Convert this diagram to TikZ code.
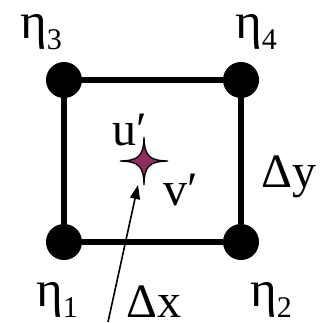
\documentclass[tikz,border=0pt]{standalone}
\usepackage{fontspec}
\setmainfont{Liberation Serif}
\usepackage{tikz}
\usetikzlibrary{arrows.meta}
\definecolor{starpurple}{RGB}{142,44,98}
\newcommand{\idx}[1]{\raisebox{-11pt}{\fontsize{30}{30}\selectfont #1}}
\newcommand{\elev}{{\fontsize{51}{51}\selectfont η}}
\tikzset{
  corner/.style={circle, fill=black, inner sep=0pt, minimum size=36pt},
  edge/.style={line width=5.5pt, color=black},
  lbl/.style={anchor=base west, inner sep=0pt, font=\fontsize{48}{48}\selectfont},
  pointer/.style={-{Triangle[length=14pt,width=10pt]}, line width=1.6pt, color=black}
}

\begin{document}
\begin{tikzpicture}[x=1pt, y=-1pt]
  \useasboundingbox (0,0) rectangle (324,322);

  % Grid corners of the cell
  \node[corner] (c1) at (64,242) {};
  \node[corner] (c2) at (241,242) {};
  \node[corner] (c3) at (64,80) {};
  \node[corner] (c4) at (241,80) {};

  % Cell edges
  \draw[edge] (c1) -- (c2);
  \draw[edge] (c2) -- (c4);
  \draw[edge] (c4) -- (c3);
  \draw[edge] (c3) -- (c1);

  % Corner values
  \node[lbl] (eta3) at (20,38) {\elev\idx{3}};
  \node[lbl] (eta4) at (235,38) {\elev\idx{4}};
  \node[lbl] (eta1) at (36,306) {\elev\idx{1}};
  \node[lbl] (eta2) at (250,306) {\elev\idx{2}};

  % Spacings
  \node[lbl] (dx) at (126,317) {Δx};
  \node[lbl] (dy) at (261,187) {Δy};

  % Velocity point in the cell
  \node[lbl] (uvel) at (112,145) {u′};
  \node[lbl] (vvel) at (163,205) {v′};
  \coordinate (vel) at (144,161);
  \begin{scope}[shift={(vel)}]
    \draw[fill=starpurple, line width=1.3pt]
      (0,-24) .. controls (0.5,-5) and (5,-0.5) .. (24,0)
      .. controls (5,0.5) and (0.5,5) .. (0,24)
      .. controls (-0.5,5) and (-5,0.5) .. (-24,0)
      .. controls (-5,-0.5) and (-0.5,-5) .. cycle;
  \end{scope}

  % Pointer to the velocity point
  \coordinate (tail) at (108,322);
  \coordinate (aim) at (138,185);
  \draw[pointer] (tail) -- (aim);
\end{tikzpicture}
\end{document}
